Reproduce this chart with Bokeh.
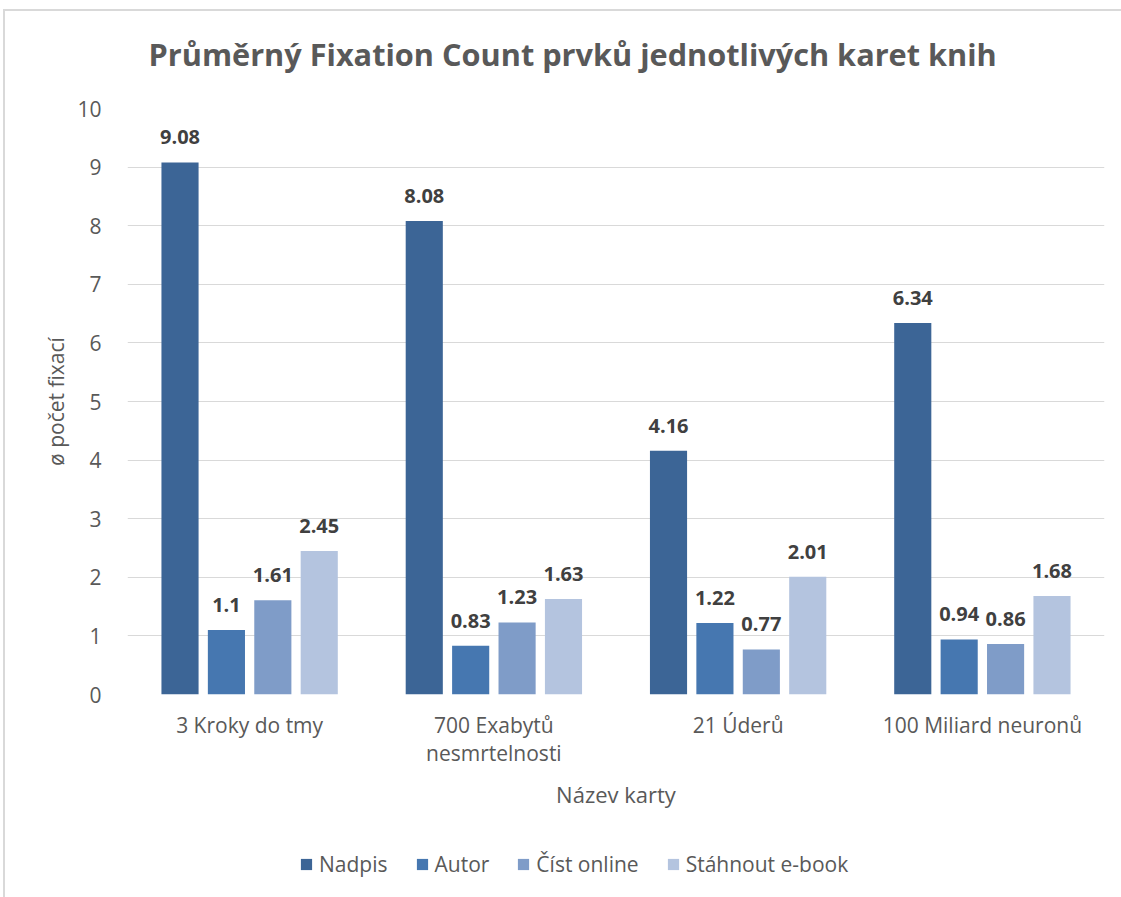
from bokeh.plotting import figure
from bokeh.layouts import column
from bokeh.models import ColumnDataSource, FactorRange, Legend, LegendItem, LabelSet, Label
from bokeh.transform import dodge
from bokeh.core.properties import value
from bokeh.embed import file_html
from bokeh.resources import INLINE

title_text = "Průměrný Fixation Count prvků jednotlivých karet knih"
categories = ["3 Kroky do tmy", "700 Exabytů\nnesmrtelnosti", "21 Úderů", "100 Miliard neuronů"]
series_names = ["Nadpis", "Autor", "Číst online", "Stáhnout e-book"]
nadpis = [9.08, 8.08, 4.16, 6.34]
autor = [1.1, 0.83, 1.22, 0.94]
cist_online = [1.61, 1.23, 0.77, 0.86]
stahnout = [2.45, 1.63, 2.01, 1.68]
value_labels = [
    ["9.08", "8.08", "4.16", "6.34"],
    ["1.1", "0.83", "1.22", "0.94"],
    ["1.61", "1.23", "0.77", "0.86"],
    ["2.45", "1.63", "2.01", "1.68"],
]
colors = ["#3C6596", "#4677B0", "#7F9CC8", "#B4C4DF"]
offsets = [-0.285, -0.095, 0.095, 0.285]

FONT = "Open Sans"
source = ColumnDataSource(data=dict(
    cat=categories, s0=nadpis, s1=autor, s2=cist_online, s3=stahnout,
    l0=value_labels[0], l1=value_labels[1], l2=value_labels[2], l3=value_labels[3],
))

# title strip
tfig = figure(
    width=1116, height=79, x_range=(0, 1), y_range=(0, 1),
    output_backend="svg", toolbar_location=None,
    x_axis_location=None, y_axis_location=None,
    min_border_left=0, min_border_right=0, min_border_top=0, min_border_bottom=0,
)
tfig.grid.visible = False
tfig.outline_line_color = None
tfig.title.visible = False
tfig.add_layout(Label(
    x=0.0215, y=0.456, text=title_text, text_align="left", text_baseline="alphabetic",
    text_font=FONT, text_font_size="30.7px", text_font_style="bold", text_color="#595959",
))

# main chart
p = figure(
    x_range=FactorRange(*categories, range_padding=0),
    y_range=(0, 10),
    width=1116, height=740,
    output_backend="svg", toolbar_location=None,
    min_border_left=122, min_border_right=17, min_border_top=18, min_border_bottom=136,
)
p.title.visible = False

for i, name in enumerate(series_names):
    p.vbar(x=dodge("cat", offsets[i], range=p.x_range), top="s%d" % i, width=0.152,
           source=source, fill_color=colors[i], line_color=None)
    lbl = LabelSet(x=dodge("cat", offsets[i], range=p.x_range), y="s%d" % i, text="l%d" % i,
                   source=source, text_align="center", text_baseline="middle", y_offset=25,
                   text_font=value(FONT), text_font_style="bold", text_font_size="20px",
                   text_color="#404040")
    p.add_layout(lbl)

p.xgrid.grid_line_color = None
p.ygrid.grid_line_color = "#d9d9d9"
p.ygrid.grid_line_width = 1
p.outline_line_color = None

p.yaxis.ticker = list(range(0, 11))
p.yaxis.axis_line_color = None
p.yaxis.major_tick_line_color = None
p.yaxis.minor_tick_line_color = None
p.yaxis.major_label_text_font = FONT
p.yaxis.major_label_text_font_size = "21px"
p.yaxis.major_label_text_color = "#595959"
p.yaxis.major_label_standoff = 20
p.yaxis.axis_label = "ø počet fixací"
p.yaxis.axis_label_text_font = FONT
p.yaxis.axis_label_text_font_size = "21px"
p.yaxis.axis_label_text_font_style = "normal"
p.yaxis.axis_label_text_color = "#595959"
p.yaxis.axis_label_standoff = 4

p.xaxis.axis_line_color = None
p.xaxis.major_tick_line_color = None
p.xaxis.minor_tick_line_color = None
p.xaxis.major_label_text_font = FONT
p.xaxis.major_label_text_font_size = "21px"
p.xaxis.major_label_text_color = "#595959"
p.xaxis.major_label_text_line_height = 1.0
p.xaxis.major_label_standoff = 10
p.xaxis.major_label_orientation = "horizontal"
p.xaxis.axis_label = "Název karty"
p.xaxis.axis_label_text_font = FONT
p.xaxis.axis_label_text_font_size = "22px"
p.xaxis.axis_label_text_font_style = "normal"
p.xaxis.axis_label_text_color = "#595959"
p.xaxis.axis_label_standoff = 9

# legend strip below the chart
leg = figure(
    width=1116, height=67, x_range=(0, 1), y_range=(0, 1),
    output_backend="svg", toolbar_location=None,
    x_axis_location=None, y_axis_location=None,
    min_border_left=0, min_border_right=0, min_border_top=0, min_border_bottom=0,
)
leg.grid.visible = False
leg.outline_line_color = None
leg.title.visible = False
offscreen = ColumnDataSource(data=dict(x=[-5.0], top=[-5.0]))
leg_renderers = [leg.vbar(x="x", top="top", width=0.1, source=offscreen,
                          fill_color=c, line_color=None) for c in colors]
legend = Legend(
    items=[LegendItem(label=n, renderers=[r]) for n, r in zip(series_names, leg_renderers)],
    orientation="horizontal", location=(172, 19),
    label_text_font=FONT, label_text_font_size="21px", label_text_color="#595959",
    glyph_width=14, glyph_height=14, spacing=27, label_standoff=6, padding=6,
    border_line_color=None, background_fill_alpha=0, margin=0,
)
leg.add_layout(legend, "center")

layout = column(tfig, p, leg, spacing=0)
layout.margin = (9, 0, 0, 3)
layout.styles = {"border-left": "2px solid #d9d9d9", "border-top": "2px solid #d9d9d9"}

open("out.html", "w").write(file_html(layout, INLINE))
